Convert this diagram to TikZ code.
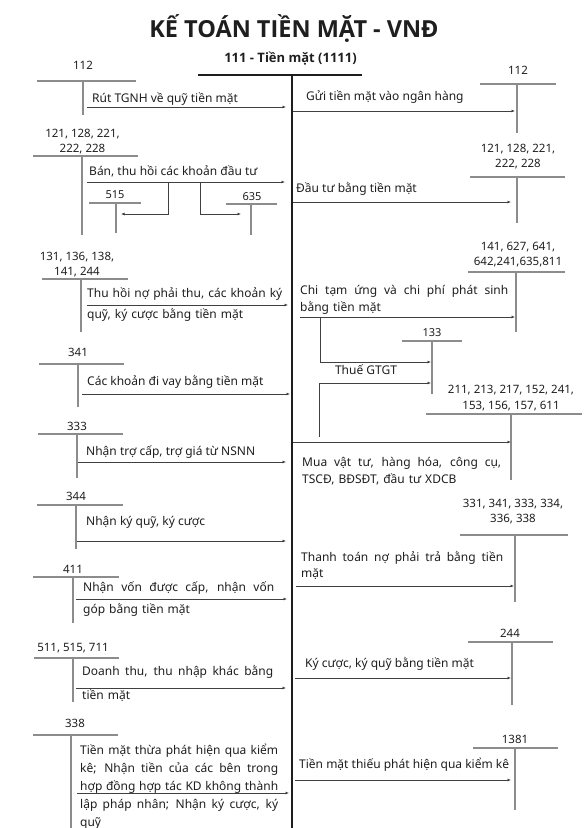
\documentclass[tikz,border=0pt]{standalone}
\usepackage{fontspec}
\setmainfont{Noto Sans}
\newfontfamily\titlefont{Open Sans}
\usetikzlibrary{arrows.meta,positioning}
\definecolor{ink}{HTML}{1E1E1E}
\definecolor{tgray}{HTML}{8C8C8C}
\definecolor{agray}{HTML}{404040}
\newcommand{\jline}[2]{{\spaceskip=0pt\xspaceskip=0pt\makebox[#1][s]{#2}}}
\tikzset{
  title/.style={font=\titlefont\bfseries\fontsize{23.5}{28}\selectfont, text=ink, anchor=base, inner sep=0pt},
  subtitle/.style={font=\titlefont\bfseries\fontsize{13}{16}\selectfont, text=ink, anchor=base, inner sep=0pt},
  acct/.style={font=\fontsize{11.5}{#1}\selectfont, text=ink, anchor=base, align=center, inner sep=0pt},
  acct/.default=15,
  small/.style={acct, font=\fontsize{11}{14}\selectfont},
  desc/.style={font=\fontsize{12}{#1}\selectfont, text=ink, anchor=base west, align=left, inner sep=0pt},
  desc/.default=17,
  tline/.style={draw=tgray, line width=1.3pt},
  mainline/.style={draw=ink, line width=2pt},
  arrow/.style={-{Latex[length=3.5pt,width=3pt]}, draw=agray, line width=1pt}
}
\begin{document}
\begin{tikzpicture}[x=1pt, y=-1pt]
\useasboundingbox (0,0) rectangle (588,828);
\node[title] (ttl) at (294,37) {KẾ TOÁN TIỀN MẶT - VNĐ};
\node[subtitle] (sub) at (290.5,62.5) {111 - Tiền mặt (1111)};
\draw[mainline] (198,75) -- (362,75);
\draw[mainline] (291.5,75) -- (291.5,828);

% ---- ghi Nợ 111 (ben trai)
\node[acct] (l112) at (83,69) {112};
\draw[tline] (37,81) -- (136,81) (83,81) -- (83,115);
\node[desc] (rut) at (92,102) {Rút TGNH về quỹ tiền mặt};
\coordinate (rut1) at (87,107); \coordinate (rut2) at (286,107);
\draw[arrow] (rut1) -- (rut2);

% two-line labels sit on their last line
\node[acct] (l121) at (82.5,152) {121, 128, 221,\\222, 228};
\draw[tline] (33,156) -- (138,156) (82,156) -- (82,235);
\node[desc] (ban) at (89,175) {Bán, thu hồi các khoản đầu tư};
\coordinate (ban1) at (87,182); \coordinate (ban2) at (285,182);
\draw[arrow] (ban1) -- (ban2);
\node[small] (l515) at (115,198) {515};
\draw[tline] (89,203) -- (141,203) (116,203) -- (116,233);
\node[small] (l635) at (252,200) {635};
\draw[tline] (226,204) -- (277,204) (251,204) -- (251,235);
\coordinate (lai1) at (168,182); \coordinate (lai2) at (121,214);
\coordinate (lo1) at (200,182); \coordinate (lo2) at (241,214);
\draw[arrow] (lai1) |- (lai2);
\draw[arrow] (lo1) |- (lo2);

\node[acct] (l131) at (77,275) {131, 136, 138,\\141, 244};
\draw[tline] (42,279) -- (128,279) (81,279) -- (81,332);
\node[desc=21, text width=200pt] (thuhoi) at (87,297) {Thu hồi nợ phải thu, các khoản ký\\quỹ, ký cược bằng tiền mặt};
\coordinate (thuhoi1) at (87,305); \coordinate (thuhoi2) at (288,305);
\draw[arrow] (thuhoi1) -- (thuhoi2);

\node[acct] (l341) at (78,356) {341};
\draw[tline] (39,364) -- (124,364) (78,364) -- (78,407);
\node[desc] (vay) at (87,385) {Các khoản đi vay bằng tiền mặt};
\coordinate (vay1) at (82,394); \coordinate (vay2) at (290,394);
\draw[arrow] (vay1) -- (vay2);

\node[acct] (l333) at (77,430) {333};
\draw[tline] (38,434) -- (123,434) (77,434) -- (77,478);
\node[desc] (trocap) at (86,455) {Nhận trợ cấp, trợ giá từ NSNN};
\coordinate (trocap1) at (78,462); \coordinate (trocap2) at (286,462);
\draw[arrow] (trocap1) -- (trocap2);

\node[acct] (l344) at (76,500) {344};
\draw[tline] (37,505) -- (123,505) (76,505) -- (76,549);
\node[desc] (kyquy) at (86,525) {Nhận ký quỹ, ký cược};
\coordinate (kyquy1) at (77,541); \coordinate (kyquy2) at (286,541);
\draw[arrow] (kyquy1) -- (kyquy2);

\node[acct] (l411) at (73,573) {411};
\draw[tline] (33,577) -- (119,577) (73,577) -- (73,623);
\node[desc=22, text width=191pt] (nhanvon) at (83,591) {\jline{191pt}{Nhận vốn được cấp, nhận vốn}\\góp bằng tiền mặt};
\coordinate (nhanvon1) at (76,599); \coordinate (nhanvon2) at (287,599);
\draw[arrow] (nhanvon1) -- (nhanvon2);

\node[acct] (l511) at (73,651) {511, 515, 711};
\draw[tline] (34,658) -- (119,658) (73,658) -- (73,702);
\node[desc=24, text width=191pt] (doanhthu) at (82,675) {\jline{191pt}{Doanh thu, thu nhập khác bằng}\\tiền mặt};
\coordinate (doanhthu1) at (76,688); \coordinate (doanhthu2) at (286,688);
\draw[arrow] (doanhthu1) -- (doanhthu2);

\node[acct] (l338) at (75,727) {338};
\draw[tline] (33,735) -- (118,735) (71,735) -- (71,828);
\node[desc=18, text width=198pt] (thua) at (80,754) {\jline{198pt}{Tiền mặt thừa phát hiện qua kiểm}\\\jline{198pt}{kê; Nhận tiền của các bên trong}\\\jline{198pt}{hợp đồng hợp tác KD không thành}\\\jline{198pt}{lập pháp nhân; Nhận ký cược, ký}\\quỹ};
\coordinate (thua1) at (77,793); \coordinate (thua2) at (289,793);
\draw[arrow] (thua1) -- (thua2);

% ---- ghi Có 111 (ben phai)
\node[acct] (r112) at (518,74) {112};
\draw[tline] (480,84) -- (556,84) (517,84) -- (517,133);
\node[desc] (gui) at (306,100) {Gửi tiền mặt vào ngân hàng};
\coordinate (gui1) at (293,111); \coordinate (gui2) at (515,111);
\draw[arrow] (gui1) -- (gui2);

\node[acct] (r121) at (518,167) {121, 128, 221,\\222, 228};
\draw[tline] (470,177) -- (565,177) (517,177) -- (517,223);
\node[desc] (dautu) at (296,192) {Đầu tư bằng tiền mặt};
\coordinate (dautu1) at (293,202); \coordinate (dautu2) at (511,202);
\draw[arrow] (dautu1) -- (dautu2);

\node[acct] (r141) at (518,265) {141, 627, 641,\\642,241,635,811};
\draw[tline] (468,272) -- (565,272) (516,272) -- (516,332);
\node[desc=17, text width=208pt] (chi) at (300,294) {\jline{208pt}{Chi tạm ứng và chi phí phát sinh}\\bằng tiền mặt};
\coordinate (chi1) at (300,317); \coordinate (chi2) at (515,317);
\draw[arrow] (chi1) -- (chi2);

\node[small] (r133) at (432,336) {133};
\draw[tline] (402,341) -- (462,341) (432,341) -- (432,394);
\node[desc, anchor=base] (thue) at (366,374) {Thuế GTGT};
\coordinate (thue1) at (320,317); \coordinate (thue2) at (431,362);
\coordinate (thue3) at (319,437); \coordinate (thue4) at (431,383);
\draw[arrow] (thue1) |- (thue2);
\draw[arrow] (thue3) |- (thue4);

\node[acct=16] (r211) at (511,409) {211, 213, 217, 152, 241,\\153, 156, 157, 611};
\draw[tline] (426,414) -- (582,414) (511,414) -- (511,480);
\node[desc=17, text width=199pt] (mua) at (302,466) {\jline{199pt}{Mua vật tư, hàng hóa, công cụ,}\\TSCĐ, BĐSĐT, đầu tư XDCB};
\coordinate (mua1) at (293,442); \coordinate (mua2) at (511,442);
\draw[arrow] (mua1) -- (mua2);

\node[acct] (r331) at (513,522) {331, 341, 333, 334,\\336, 338};
\draw[tline] (460,535) -- (568,535) (515,535) -- (515,602);
\node[desc=16, text width=202pt] (thanhtoan) at (301,561) {\jline{202pt}{Thanh toán nợ phải trả bằng tiền}\\mặt};
\coordinate (thanhtoan1) at (296,586); \coordinate (thanhtoan2) at (514,586);
\draw[arrow] (thanhtoan1) -- (thanhtoan2);

\node[acct] (r244) at (510,637) {244};
\draw[tline] (468,642) -- (553,642) (512,642) -- (512,705);
\node[desc] (kycuoc) at (305,667) {Ký cược, ký quỹ bằng tiền mặt};
\coordinate (kycuoc1) at (295,678); \coordinate (kycuoc2) at (511,678);
\draw[arrow] (kycuoc1) -- (kycuoc2);

\node[acct] (r1381) at (515,743) {1381};
\draw[tline] (473,748) -- (558,748) (515,748) -- (515,810);
\node[desc] (thieu) at (299,768) {Tiền mặt thiếu phát hiện qua kiểm kê};
\coordinate (thieu1) at (295,780); \coordinate (thieu2) at (511,780);
\draw[arrow] (thieu1) -- (thieu2);
\end{tikzpicture}
\end{document}
